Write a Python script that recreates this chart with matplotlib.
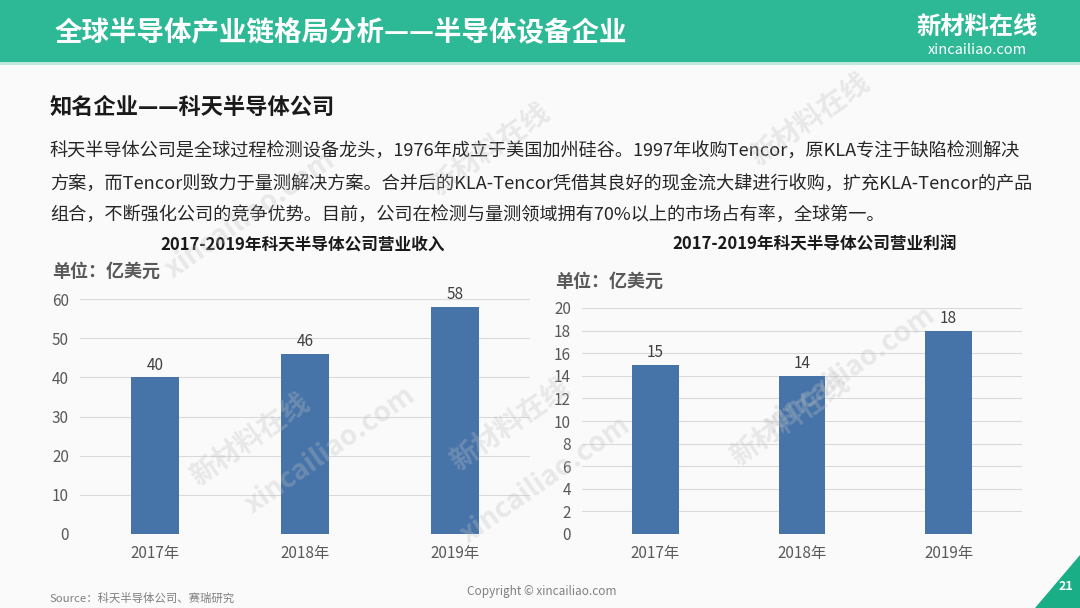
import numpy as np
import matplotlib.pyplot as plt
from matplotlib.patches import Rectangle, Polygon

plt.rcParams['font.family'] = ['Noto Sans CJK SC', 'DejaVu Sans']

# data
years = ['2017年', '2018年', '2019年']
revenue = [40, 46, 58]
profit = [15, 14, 18]

title_text = '全球半导体产业链格局分析——半导体设备企业'
heading = '知名企业——科天半导体公司'
para_lines = [
    '科天半导体公司是全球过程检测设备龙头，1976年成立于美国加州硅谷。1997年收购Tencor，原KLA专注于缺陷检测解决',
    '方案，而Tencor则致力于量测解决方案。合并后的KLA-Tencor凭借其良好的现金流大肆进行收购，扩充KLA-Tencor的产品',
    '组合，不断强化公司的竞争优势。目前，公司在检测与量测领域拥有70%以上的市场占有率，全球第一。',
]

W, H = 1080, 608
fig = plt.figure(figsize=(W / 100, H / 100), dpi=100)
fig.patch.set_facecolor('#FAFAFA')

def px(x, y):
    return x / W, 1 - y / H

green = '#2DB896'
bar_color = '#4674A9'

# header band
fig.patches.append(Rectangle(px(0, 62), 1, 62 / H, transform=fig.transFigure,
                             facecolor=green, edgecolor='none', zorder=0))
fig.patches.append(Rectangle(px(0, 65), 1, 3 / H, transform=fig.transFigure,
                             facecolor='#BFE9DC', edgecolor='none', zorder=0))
fig.text(*px(55, 33), title_text, color='white', fontsize=19.8, fontweight='bold', va='center')
fig.text(*px(977, 27), '新材料在线', color='white', fontsize=17.5, fontweight='bold',
         ha='center', va='center')
fig.text(*px(977, 50), 'xincailiao.com', color='white', fontsize=10.5, ha='center', va='center')

# watermarks
for (x, y, s) in [(250, 215, 'xincailiao.com'), (490, 150, '新材料在线'), (810, 120, '新材料在线'),
                  (250, 440, '新材料在线'), (330, 450, 'xincailiao.com'), (510, 425, '新材料在线'),
                  (545, 480, 'xincailiao.com'), (790, 420, '新材料在线'), (850, 370, 'xincailiao.com')]:
    fig.text(*px(x, y), s, color='#BFBFBF', alpha=0.3, fontsize=20, fontweight='bold', rotation=35,
             ha='center', va='center', zorder=5)

# text block
fig.text(*px(50, 107), heading, color='#1A1A1A', fontsize=16, fontweight='bold', va='center')
for i, line in enumerate(para_lines):
    fig.text(*px(50, 152 + i * 32), line, color='#262626', fontsize=13.1, va='center')

def draw_chart(rect, values, ymax, step, title, title_pos, unit_pos):
    ax = fig.add_axes(rect)
    ax.set_facecolor('none')
    x = np.arange(len(values))
    bars = ax.bar(x, values, width=0.32, color=bar_color, zorder=3)
    ax.set_xlim(-0.5, len(values) - 0.5)
    ax.set_ylim(0, ymax)
    ax.set_yticks(np.arange(0, ymax + 1, step))
    ax.set_xticks(x)
    ax.set_xticklabels(years)
    ax.grid(axis='y', color='#D9D9D9', linewidth=0.8, zorder=0)
    for s in ax.spines.values():
        s.set_visible(False)
    ax.tick_params(length=0, labelsize=11, colors='#595959', pad=8)
    for b, v in zip(bars, values):
        ax.text(b.get_x() + b.get_width() / 2, v + ymax * 0.015, str(v), ha='center', va='bottom',
                fontsize=11, color='#404040', clip_on=False)
    fig.text(*px(*title_pos), title, fontsize=12, fontweight='bold', color='#1A1A1A',
             ha='center', va='center')
    fig.text(*px(*unit_pos), '单位：亿美元', fontsize=13, fontweight='bold', color='#595959',
             va='center')
    return ax

draw_chart([80 / W, 1 - 534 / H, 450 / W, 235 / H], revenue, 60, 10,
           '2017-2019年科天半导体公司营业收入', (303, 244), (52, 271))
draw_chart([582 / W, 1 - 534 / H, 440 / W, 226 / H], profit, 20, 2,
           '2017-2019年科天半导体公司营业利润', (815, 244), (555, 281))

# footer
fig.text(*px(50, 598), 'Source：科天半导体公司、赛瑞研究', fontsize=8.2, style='italic',
         color='#7F7F7F', va='center')
fig.text(*px(542, 592), 'Copyright © xincailiao.com', fontsize=8.5, color='#7F7F7F',
         ha='center', va='center')
fig.patches.append(Polygon([px(1035, 608), px(1080, 555), px(1080, 608)], closed=True,
                           transform=fig.transFigure, facecolor='#1AAE86', edgecolor='none'))
fig.text(*px(1066, 586), '21', color='white', fontsize=9, fontweight='bold', ha='center', va='center')

fig.savefig('out.png', dpi=100, facecolor=fig.get_facecolor())
